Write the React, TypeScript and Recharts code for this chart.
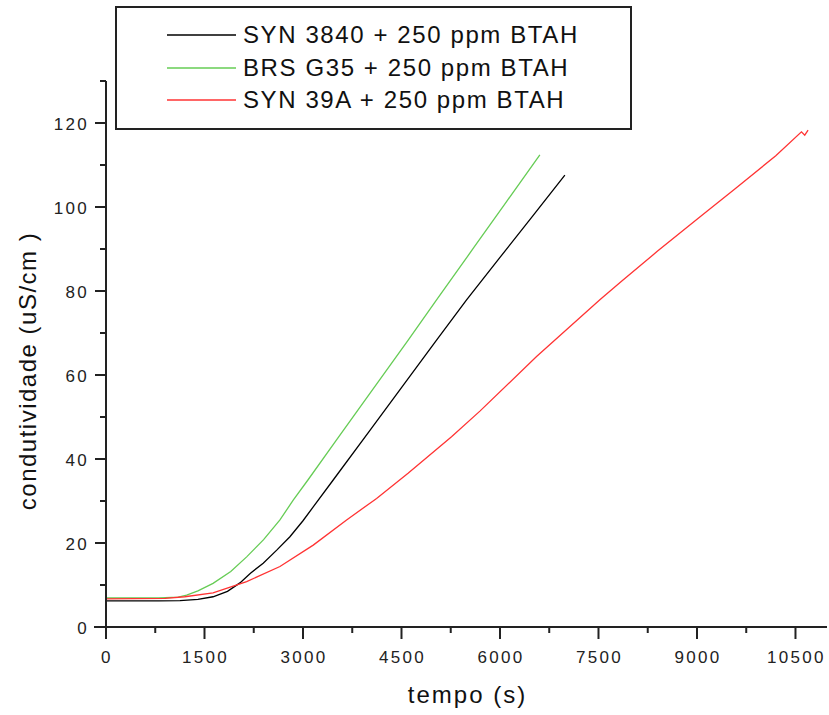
import React from "react"
import { Label, Legend, Line, LineChart, ReferenceLine, XAxis, YAxis } from "recharts"

// readings taken off the original Origin plot (time in s, conductivity in uS/cm)
const SYN3840_T = [0, 800, 1127, 1400, 1630, 1850, 2040, 2200, 2394, 2600, 2801, 3000, 3156, 3460, 4000, 4500, 5034, 5491, 6000, 6500, 6988]
const SYN3840_Y = [6.2, 6.2, 6.3, 6.6, 7.2, 8.5, 10.5, 12.8, 15.2, 18.3, 21.5, 25.3, 28.6, 35.0, 46.4, 57.0, 68.3, 77.9, 88.0, 97.9, 107.6]

const G35_T = [0, 800, 1100, 1228, 1400, 1630, 1900, 2142, 2400, 2649, 2851, 3075, 3500, 4000, 4602, 5034, 5600, 6100, 6607]
const G35_Y = [6.9, 6.9, 7.1, 7.6, 8.6, 10.4, 13.2, 16.7, 20.8, 25.5, 30.2, 35.0, 44.3, 55.2, 68.3, 77.9, 90.3, 101.3, 112.4]

const SYN39A_T = [0, 900, 1200, 1630, 2142, 2649, 3156, 3664, 4121, 4600, 5262, 5694, 6557, 7521, 7851, 8400, 9043, 9600, 10200, 10591, 10641, 10692]
const SYN39A_Y = [6.7, 6.8, 7.2, 8.1, 10.8, 14.4, 19.5, 25.5, 30.6, 36.6, 45.3, 51.4, 64.4, 77.9, 82.3, 89.5, 97.6, 104.6, 112.2, 117.9, 117.1, 118.3]

const X_TICKS = [0, 750, 1500, 2250, 3000, 3750, 4500, 5250, 6000, 6750, 7500, 8250, 9000, 9750, 10500]
const Y_TICKS = [0, 10, 20, 30, 40, 50, 60, 70, 80, 90, 100, 110, 120, 130]

const toPoints = (t: number[], y: number[]) => t.map((v, i) => ({ t: v, y: y[i] }))

const SERIES = [
  { name: "SYN 3840 + 250 ppm BTAH", color: "#000000", data: toPoints(SYN3840_T, SYN3840_Y) },
  { name: "BRS G35 + 250 ppm BTAH", color: "#66cc55", data: toPoints(G35_T, G35_Y) },
  { name: "SYN 39A + 250 ppm BTAH", color: "#ff3333", data: toPoints(SYN39A_T, SYN39A_Y) },
]
const ORDER = SERIES.map((s) => s.name)

const FONT = "'Liberation Sans', Arial, sans-serif"
const AXIS = "#222"

function YTick({ x, y, payload }: any) {
  const major = payload.value % 20 === 0
  return (
    <g>
      <line x1={x - (major ? 11 : 6)} x2={x} y1={y} y2={y} stroke={AXIS} strokeWidth={2} />
      {major && (
        <text x={x - 17} y={y + 7} textAnchor="end" fontSize={17} letterSpacing={2.3} fill="#222" fontFamily={FONT}>
          {payload.value}
        </text>
      )}
    </g>
  )
}

function XTick({ x, y, payload }: any) {
  const major = payload.value % 1500 === 0
  return (
    <g>
      <line x1={x} x2={x} y1={y} y2={y + (major ? 12 : 6)} stroke={AXIS} strokeWidth={2} />
      {major && (
        <text x={x + 1} y={y + 36} textAnchor="middle" fontSize={17} letterSpacing={2.3} fill="#222" fontFamily={FONT}>
          {payload.value}
        </text>
      )}
    </g>
  )
}

function LegendBox({ payload }: any) {
  // keep the plotting order (recharts sorts legend items by name)
  const items = [...(payload || [])].sort((a: any, b: any) => ORDER.indexOf(a.value) - ORDER.indexOf(b.value))
  return (
    <div
      style={{
        width: 517,
        height: 124,
        boxSizing: "border-box",
        border: `2px solid ${AXIS}`,
        background: "#fff",
        paddingTop: 11,
        fontFamily: FONT,
      }}
    >
      {items.map((p: any) => (
        <div key={p.value} style={{ display: "flex", alignItems: "center", height: 32.5 }}>
          <svg width={69} height={4} style={{ marginLeft: 50, marginRight: 7 }}>
            <line x1={0} x2={69} y1={2} y2={2} stroke={p.color} strokeWidth={1.5} />
          </svg>
          <span style={{ fontSize: 24, letterSpacing: 1.6, color: "#111", lineHeight: "32px" }}>{p.value}</span>
        </div>
      ))}
    </div>
  )
}

export default function App() {
  return (
    <div style={{ position: "absolute", left: 0, top: 0, background: "#fff" }}>
      <LineChart width={829} height={715} margin={{ top: 81, right: 2, bottom: 48, left: 46 }}>
        <XAxis
          type="number"
          dataKey="t"
          domain={[0, 10980]}
          ticks={X_TICKS}
          interval={0}
          height={40}
          tickSize={0}
          tickMargin={0}
          tickLine={false}
          axisLine={{ stroke: AXIS, strokeWidth: 2 }}
          tick={<XTick />}
          allowDataOverflow
        >
          <Label
            content={({ viewBox }: any) => (
              <text
                x={viewBox.x + viewBox.width / 2 + 1}
                y={703}
                textAnchor="middle"
                fontSize={24}
                letterSpacing={2}
                fill="#111"
                fontFamily={FONT}
              >
                tempo (s)
              </text>
            )}
          />
        </XAxis>
        <YAxis
          type="number"
          domain={[0, 130]}
          ticks={Y_TICKS}
          interval={0}
          width={60}
          tickSize={0}
          tickMargin={0}
          tickLine={false}
          axisLine={{ stroke: AXIS, strokeWidth: 2 }}
          tick={<YTick />}
          allowDataOverflow
        >
          <Label
            content={() => (
              <text
                x={36}
                y={371}
                transform="rotate(-90 36 371)"
                textAnchor="middle"
                fontSize={24}
                letterSpacing={1.5}
                fill="#111"
                fontFamily={FONT}
              >
                condutividade (uS/cm )
              </text>
            )}
          />
        </YAxis>
        <ReferenceLine
          segment={[{ x: -183, y: 0 }, { x: 0, y: 0 }]}
          ifOverflow="visible"
          stroke={AXIS}
          strokeWidth={2}
        />
        {SERIES.map((s) => (
          <Line
            key={s.name}
            data={s.data}
            dataKey="y"
            name={s.name}
            type="linear"
            stroke={s.color}
            strokeWidth={1.3}
            dot={false}
            activeDot={false}
            isAnimationActive={false}
          />
        ))}
        <Legend
          layout="horizontal"
          align="center"
          verticalAlign="middle"
          width={517}
          height={124}
          wrapperStyle={{ left: 115, top: 6, width: 517, height: 124 }}
          content={<LegendBox />}
        />
      </LineChart>
    </div>
  )
}
